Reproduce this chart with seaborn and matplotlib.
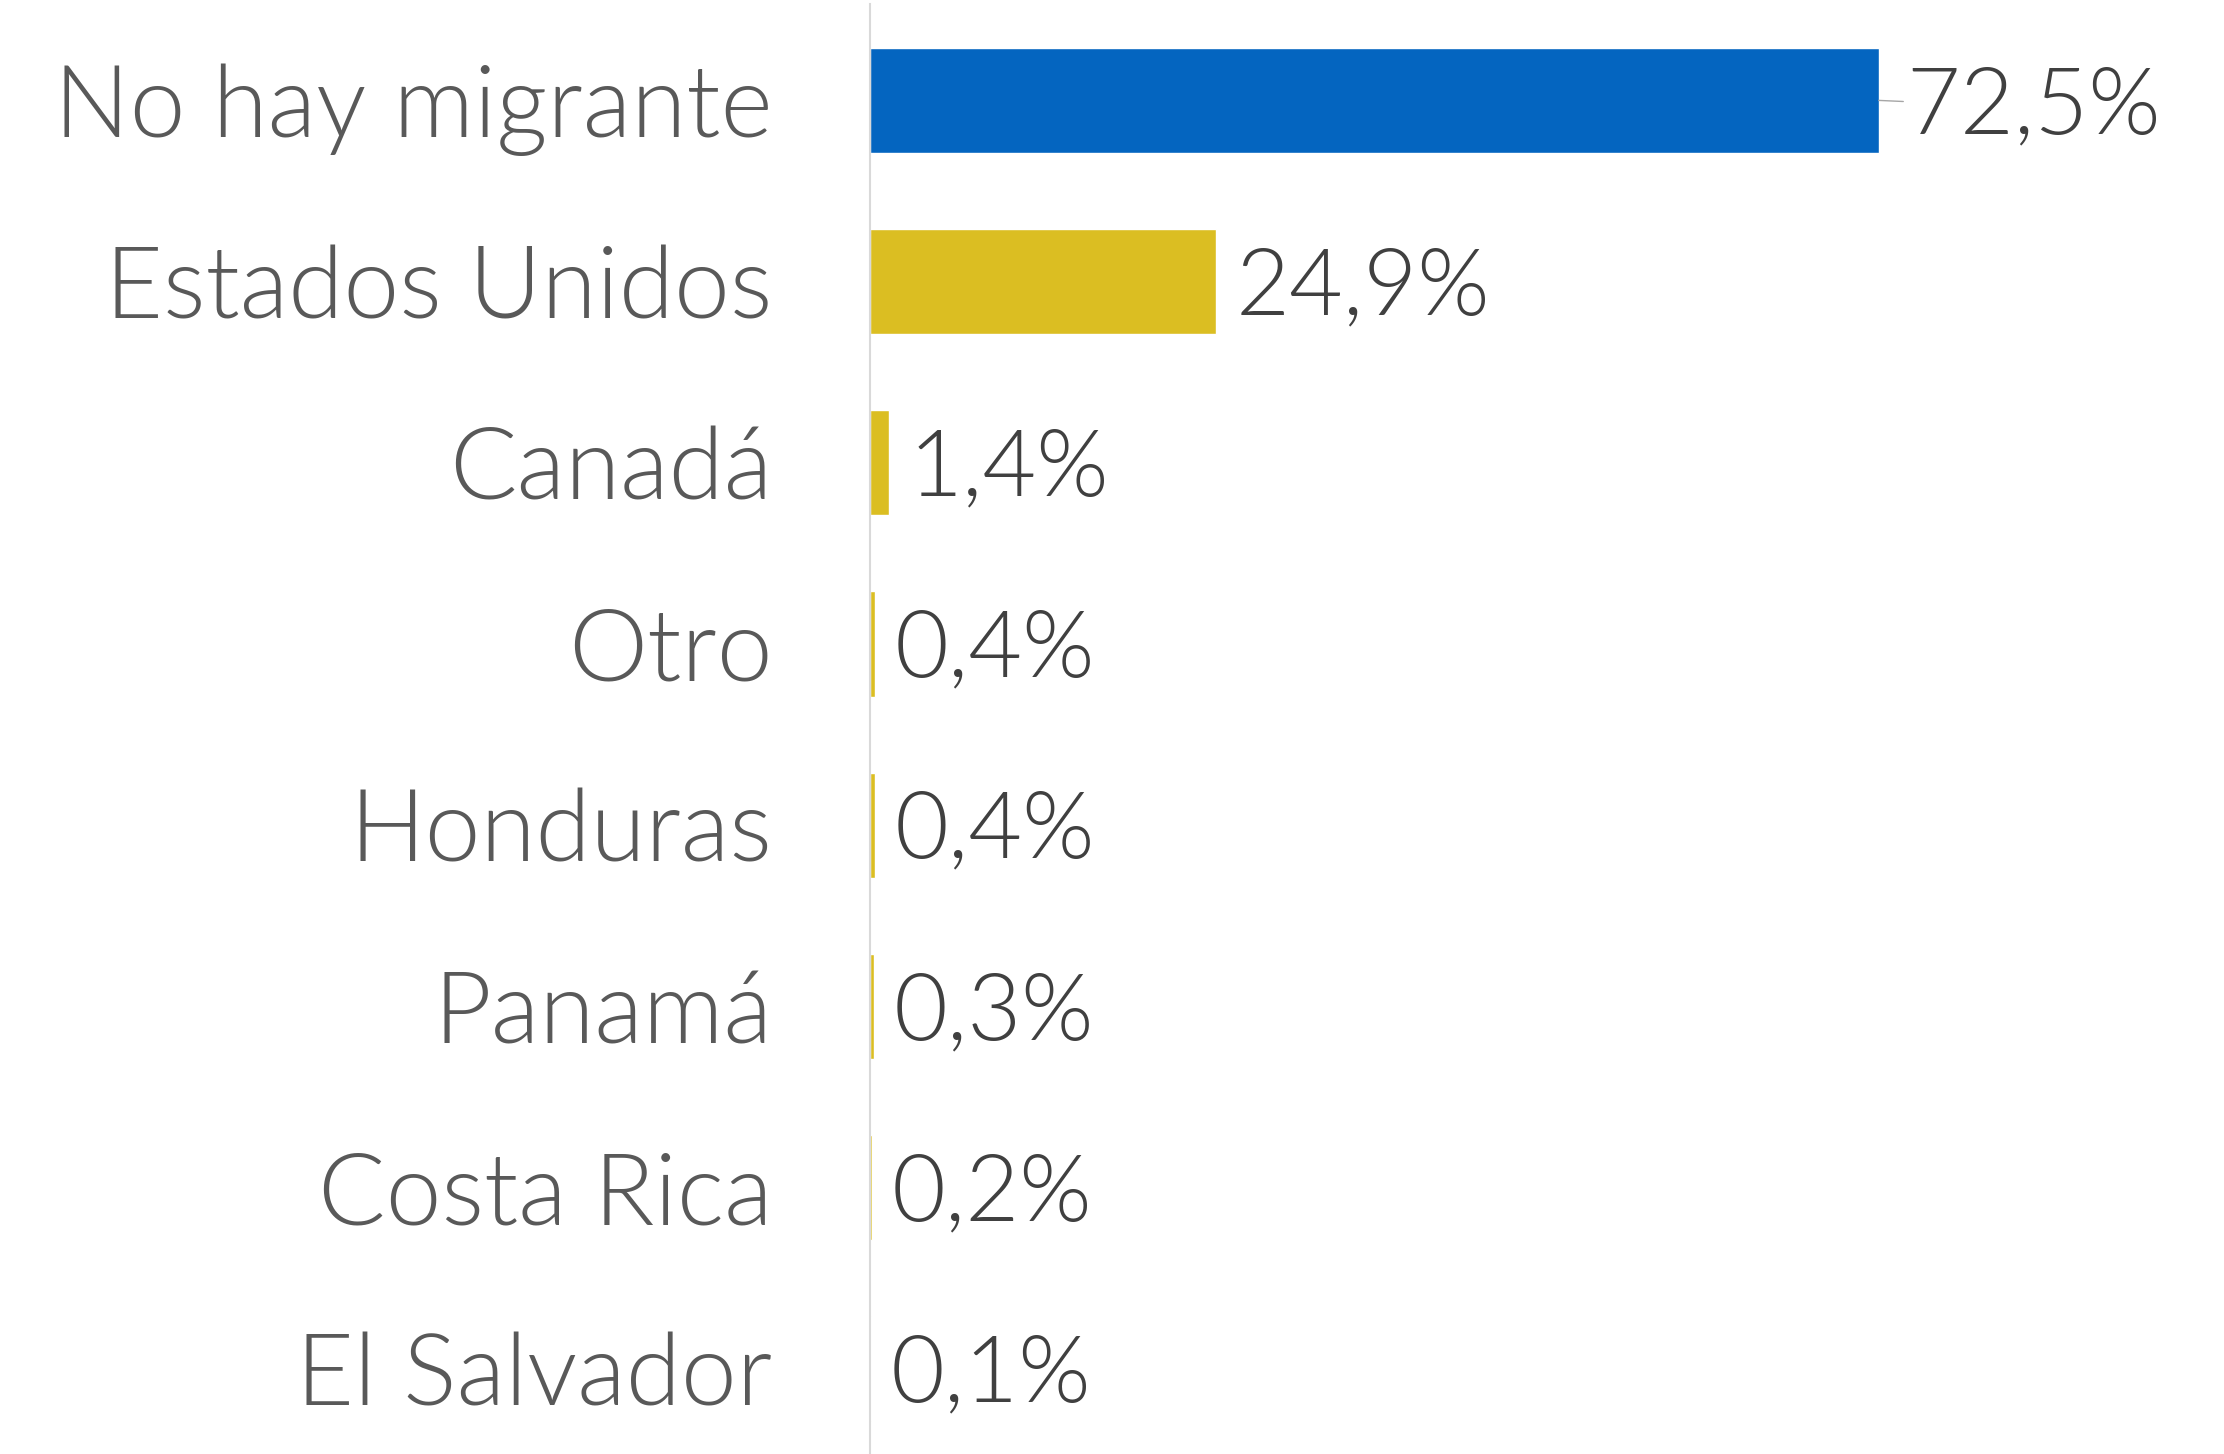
import matplotlib
matplotlib.use("Agg")
import matplotlib.pyplot as plt
import seaborn as sns
import pandas as pd

categories = ["No hay migrante", "Estados Unidos", "Canadá", "Otro", "Honduras",
              "Panamá", "Costa Rica", "El Salvador"]
values = [72.5, 24.9, 1.4, 0.4, 0.4, 0.3, 0.2, 0.1]
value_labels = ["72,5%", "24,9%", "1,4%", "0,4%", "0,4%", "0,3%", "0,2%", "0,1%"]
bar_colors = ["#0465C0", "#DBBE22", "#DBBE22", "#DBBE22", "#DBBE22",
              "#DBBE22", "#DBBE22", "#DBBE22"]

sns.set_theme(style="white")
plt.rcParams["font.family"] = ["Lato", "DejaVu Sans"]

df = pd.DataFrame({"pais": categories, "pct": values})

fig = plt.figure(figsize=(22.24, 14.54), dpi=100)
ax = fig.add_axes([0.391, 0.0, 0.609, 0.997])

sns.barplot(data=df, x="pct", y="pais", hue="pais", palette=bar_colors,
            orient="h", width=0.58, legend=False, ax=ax, saturation=1)

ax.set_xlim(0, 97.3)
ax.set_ylim(7.47, -0.53)
ax.set_xlabel("")
ax.set_ylabel("")
ax.set_xticks([])

for s in ["top", "right", "bottom"]:
    ax.spines[s].set_visible(False)
ax.spines["left"].set_color("#D9D9D9")
ax.spines["left"].set_linewidth(1.5)

ax.tick_params(axis="y", length=0, pad=70)
for lab in ax.get_yticklabels():
    lab.set_fontsize(72)
    lab.set_fontweight(300)
    lab.set_color("#595959")

for i, (v, txt) in enumerate(zip(values, value_labels)):
    if i == 0:
        # the big bar gets a little leader line like the original
        ax.annotate(txt, xy=(v, i), xytext=(20, -5), textcoords="offset points",
                    va="center", ha="left", fontsize=67, fontweight=300,
                    color="#404040",
                    arrowprops=dict(arrowstyle="-", color="#A6A6A6", lw=1,
                                    shrinkA=0, shrinkB=0))
    else:
        ax.annotate(txt, xy=(v, i), xytext=(14, -5), textcoords="offset points",
                    va="center", ha="left", fontsize=67, fontweight=300,
                    color="#404040")

fig.savefig("out.png", dpi=100, facecolor="white")
